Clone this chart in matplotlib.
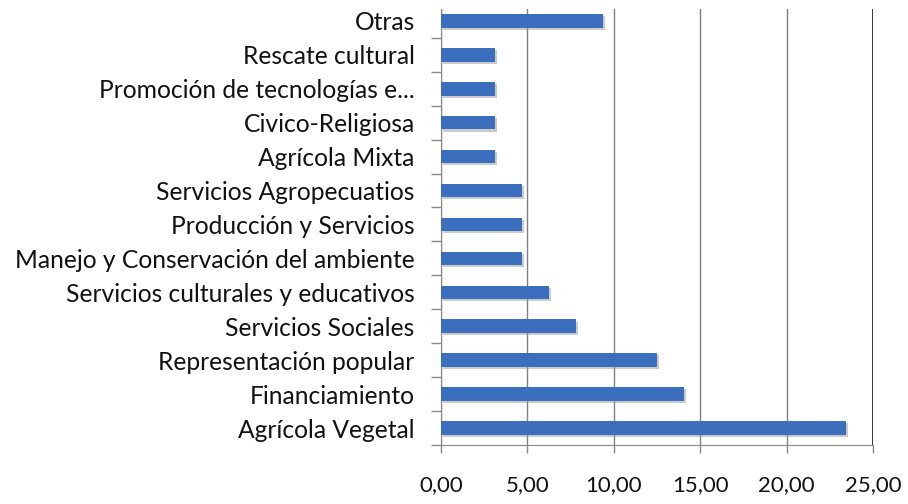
import matplotlib
matplotlib.use('Agg')
import matplotlib.pyplot as plt
import matplotlib.patheffects as pe
from matplotlib.ticker import FuncFormatter, FixedLocator

plt.rcParams['font.family'] = ['Lato', 'DejaVu Sans']

# datos (porcentaje)
categorias = ['Agrícola Vegetal', 'Financiamiento', 'Representación popular',
              'Servicios Sociales', 'Servicios culturales y educativos',
              'Manejo y Conservación del ambiente', 'Producción y Servicios',
              'Servicios Agropecuatios', 'Agrícola Mixta', 'Civico-Religiosa',
              'Promoción de tecnologías e...', 'Rescate cultural', 'Otras']
valores = [23.44, 14.06, 12.50, 7.81, 6.25, 4.69, 4.69, 4.69, 3.13, 3.13, 3.13, 3.13, 9.38]

fig = plt.figure(figsize=(9.08, 5.04), dpi=100)
ax = fig.add_axes([0.4857, 0.1171, 0.4758, 0.865])

pos = range(len(categorias))
bars = ax.barh(pos, valores, height=0.4, color='#3C6EBE', zorder=3)
for b in bars:
    b.set_path_effects([pe.SimplePatchShadow(offset=(1.5, -1.5), shadow_rgbFace='#999999', alpha=0.5), pe.Normal()])

ax.set_xlim(0, 25)
ax.set_ylim(-0.5, len(categorias) - 0.65)
ax.set_xticks([0, 5, 10, 15, 20, 25])
ax.xaxis.set_major_formatter(FuncFormatter(lambda v, p: f'{v:.2f}'.replace('.', ',')))
ax.set_yticks(list(pos))
ax.set_yticklabels(categorias)
ax.yaxis.set_minor_locator(FixedLocator([i - 0.5 for i in range(len(categorias))]))
ax.tick_params(axis='y', which='major', length=0, pad=19, labelsize=17.7, labelcolor='#111111')
ax.tick_params(axis='y', which='minor', length=7, width=1, color='#888888')
ax.tick_params(axis='x', length=6, width=1, color='#888888', pad=16, labelsize=16, labelcolor='#111111')

ax.grid(axis='x', color='#808080', linewidth=1, zorder=0)
for s in ['top', 'right']:
    ax.spines[s].set_visible(False)
ax.spines['left'].set_color('#888888')
ax.spines['bottom'].set_color('#888888')
ax.axvline(25, color='#1a1a1a', linewidth=1.2, zorder=2)

fig.savefig('out.png', dpi=100)
